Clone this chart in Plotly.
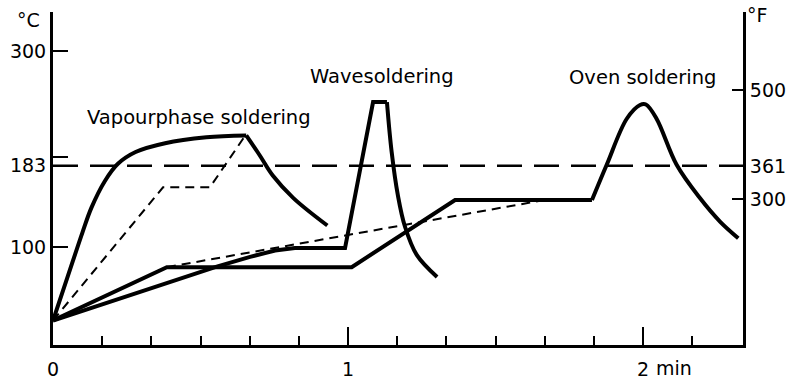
import plotly.graph_objects as go

# ---------------- data (time in minutes, temperature in °C) ----------------
x_tick_vals = [0, 1, 2]
x_tick_text = ["0", "1", "2"]
x_minor_seconds = [10, 20, 30, 40, 50, 70, 80, 90, 100, 110, 130]

c_tick_vals = [100, 183, 192, 300]
c_tick_text = ["100", "183", "", "300"]
f_tick_vals = [300, 361, 500]

liquidus_c = 183

# Vapourphase soldering (solid)
vap_rise_t = [0, 0.05, 0.10, 0.13, 0.175, 0.22, 0.28, 0.38, 0.52, 0.655]
vap_rise_c = [25, 70, 115, 140, 167, 185, 197, 206, 212, 214]
vap_fall_t = [0.655, 0.70, 0.745, 0.815, 0.93]
vap_fall_c = [214, 194, 173, 150, 122]
# Vapourphase soldering (dashed alternative)
vap_dash_t = [0, 0.373, 0.532, 0.652]
vap_dash_c = [25, 161, 161, 214]

# Wavesoldering
wave_t = [0, 0.555, 0.668, 0.753, 0.82, 0.99, 1.085, 1.132]
wave_c = [25, 80, 90, 96.5, 99, 99, 248, 248]
wave_decay_t = [1.132, 1.148, 1.169, 1.193, 1.233, 1.302]
wave_decay_c = [248, 197, 153, 121, 92, 69.5]

# Oven soldering
oven_t = [0, 0.386, 1.0125, 1.363, 1.827]
oven_c = [25, 79.5, 79.5, 148, 148]
oven_peak_t = [1.827, 1.877, 1.945, 1.99, 2.01, 2.046, 2.114, 2.193, 2.261, 2.323]
oven_peak_c = [148, 184, 231, 245, 245.5, 231, 184, 150, 126, 109]
oven_dash_t = [0.386, 1.651]
oven_dash_c = [79.5, 147.2]

x_range = [0, 2.339]
c_range = [0, 340]

FONT = "DejaVu Sans"
BLACK = "#000000"


def c_to_f(c):
    return c * 9 / 5 + 32


fig = go.Figure()


def add_line(t, c, width, dash="solid", shape="linear"):
    fig.add_trace(go.Scatter(
        x=t, y=c, mode="lines",
        line=dict(color=BLACK, width=width, dash=dash, shape=shape, smoothing=1.0),
        showlegend=False, hoverinfo="skip"))


THICK = 4
THIN = 2
THIN_DASH = "9px,6px"

add_line(vap_dash_t, vap_dash_c, THIN, THIN_DASH)
add_line(oven_dash_t, oven_dash_c, THIN, THIN_DASH)
add_line(vap_rise_t, vap_rise_c, THICK, shape="spline")
add_line(vap_fall_t, vap_fall_c, THICK, shape="spline")
add_line(wave_t, wave_c, THICK)
add_line(wave_decay_t, wave_decay_c, THICK, shape="spline")
add_line(oven_t, oven_c, THICK)
add_line(oven_peak_t, oven_peak_c, THICK, shape="spline")

# invisible trace to activate right-hand °F axis
fig.add_trace(go.Scatter(x=[x_range[0]], y=[c_to_f(c_range[0])], yaxis="y2",
                         mode="markers", marker=dict(opacity=0),
                         showlegend=False, hoverinfo="skip"))

fig.add_hline(y=liquidus_c, line=dict(color=BLACK, width=2.5, dash="25px,12px"))

tick_font = dict(family=FONT, size=19, color=BLACK)

fig.update_layout(
    width=790, height=380,
    margin=dict(l=53, r=47, t=12, b=35, autoexpand=False),
    paper_bgcolor="white", plot_bgcolor="white",
    font=dict(family=FONT, size=19, color=BLACK),
    xaxis=dict(
        range=x_range, showgrid=False, zeroline=False, automargin=False,
        showline=True, linecolor=BLACK, linewidth=3,
        tickmode="array", tickvals=x_tick_vals, ticktext=x_tick_text,
        ticks="inside", ticklen=18, tickwidth=2, tickcolor=BLACK,
        tickfont=tick_font, ticklabelstandoff=5,
        minor=dict(tickmode="array", tickvals=[s / 60 for s in x_minor_seconds],
                   ticks="inside", ticklen=9, tickwidth=1.5, tickcolor=BLACK),
    ),
    yaxis=dict(
        range=c_range, showgrid=False, zeroline=False, automargin=False,
        showline=True, linecolor=BLACK, linewidth=3,
        tickmode="array", tickvals=c_tick_vals, ticktext=c_tick_text,
        ticks="inside", ticklen=15, tickwidth=2, tickcolor=BLACK,
        tickfont=tick_font,
    ),
    yaxis2=dict(
        overlaying="y", side="right", automargin=False,
        range=[c_to_f(c_range[0]), c_to_f(c_range[1])],
        showgrid=False, zeroline=False,
        showline=True, linecolor=BLACK, linewidth=3,
        tickmode="array", tickvals=f_tick_vals,
        ticks="inside", ticklen=11, tickwidth=2, tickcolor=BLACK,
        tickfont=tick_font,
    ),
)

label_font = dict(family=FONT, size=19.5, color=BLACK)
fig.add_annotation(x=0.108, y=232, text="Vapourphase soldering", showarrow=False,
                   xanchor="left", yanchor="middle", font=label_font)
fig.add_annotation(x=0.864, y=274, text="Wavesoldering", showarrow=False,
                   xanchor="left", yanchor="middle", font=label_font)
fig.add_annotation(x=1.742, y=273, text="Oven soldering", showarrow=False,
                   xanchor="left", yanchor="middle", font=label_font)

fig.add_annotation(xref="paper", yref="paper", x=-0.0348, y=0.976, text="°C",
                   showarrow=False, xanchor="center", yanchor="middle", font=tick_font)
fig.add_annotation(xref="paper", yref="paper", x=1.0203, y=0.991, text="°F",
                   showarrow=False, xanchor="center", yanchor="middle", font=tick_font)
fig.add_annotation(x=2.037, xref="x", yref="paper", y=-0.069, text="min",
                   showarrow=False, xanchor="left", yanchor="middle", font=tick_font)

fig.write_html("out.html",
               config={"displayModeBar": False},
               post_script="document.body.style.margin='0';"
                           "document.body.style.overflow='hidden';")
